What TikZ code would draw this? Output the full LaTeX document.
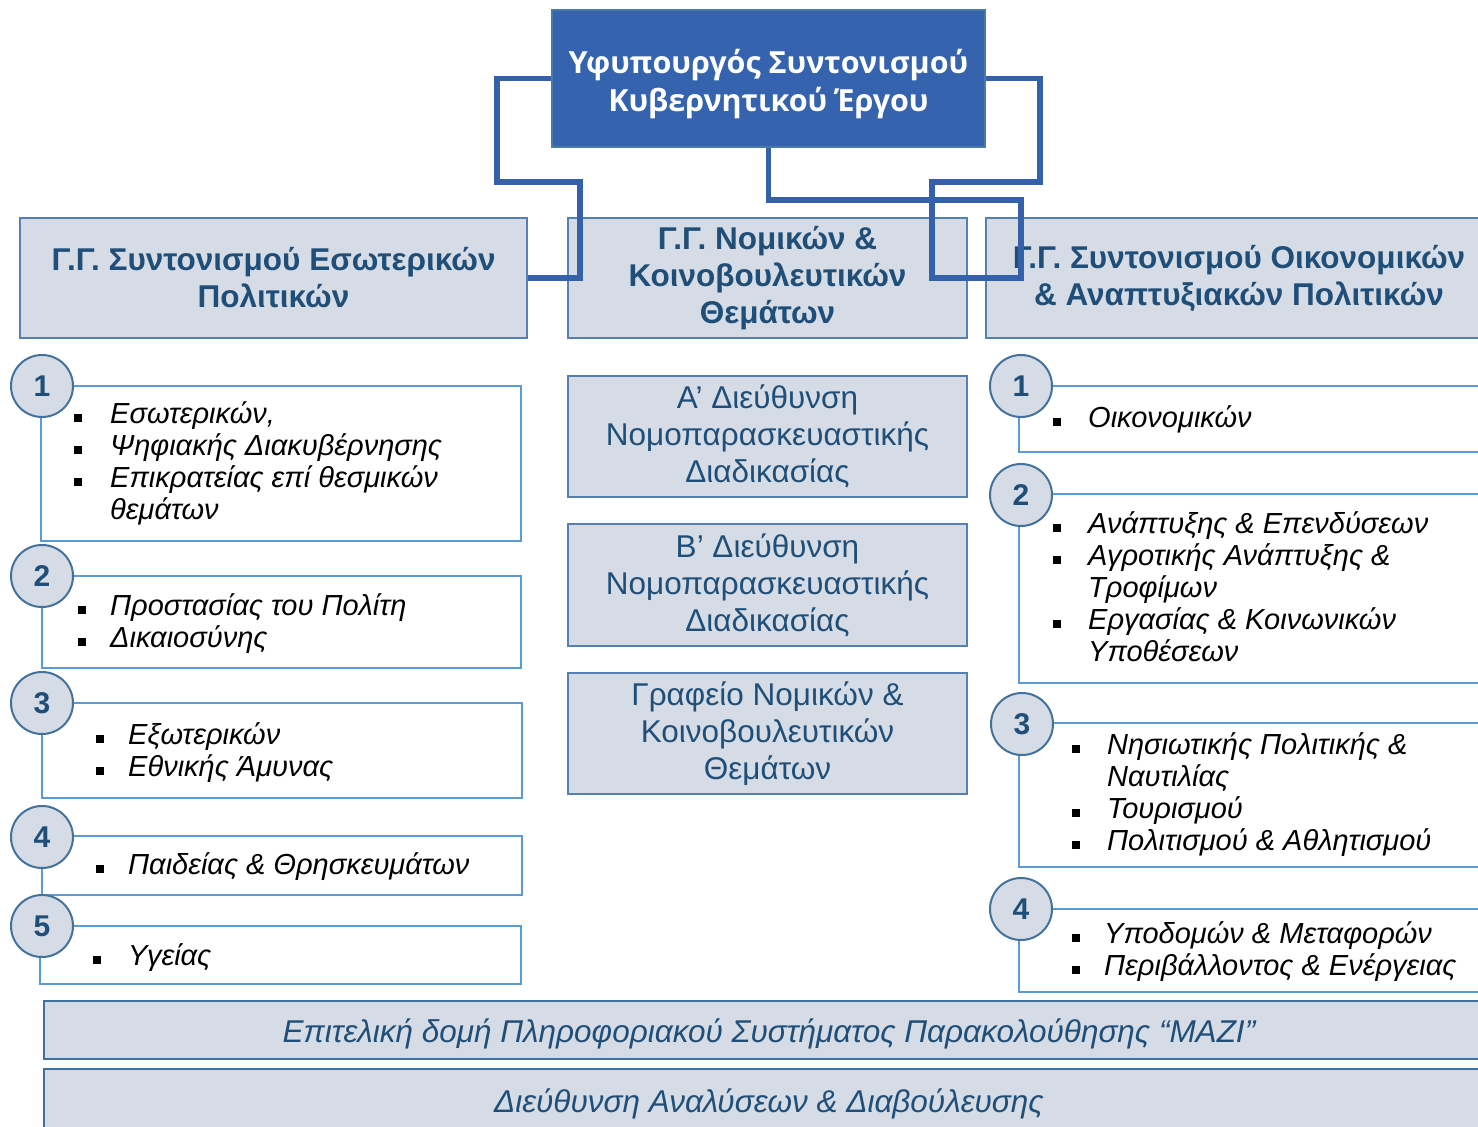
\documentclass[tikz,border=0pt]{standalone}
\usepackage{fontspec}
\setmainfont{Liberation Sans}
\newfontfamily\topfont{Open Sans}
\definecolor{topfill}{HTML}{3563AD}
\definecolor{topbd}{HTML}{4A7AA6}
\definecolor{conncol}{HTML}{3561AA}
\definecolor{pale}{HTML}{D6DCE5}
\definecolor{lvbd}{HTML}{5680B0}
\definecolor{darkblue}{HTML}{1F4E79}
\definecolor{listbd}{HTML}{5B9BD5}
\definecolor{circbd}{HTML}{41719C}
\newcommand\bul[1]{\makebox[#1pt][l]{\rule[1pt]{8pt}{8pt}}}
\begin{document}
\begin{tikzpicture}[x=1pt,y=-1pt,
  topbox/.style={draw=topbd,line width=2.5pt,fill=topfill,inner sep=0pt},
  toptext/.style={text=white,inner sep=0pt,
    font=\topfont\bfseries\fontsize{30.5}{38}\selectfont,align=center},
  lvtwo/.style={draw=lvbd,line width=2pt,fill=pale,text=darkblue,inner sep=0pt,
    font=\bfseries\fontsize{31.5}{37}\selectfont,align=center},
  dirbox/.style={draw=lvbd,line width=2pt,fill=pale,text=darkblue,inner sep=0pt,
    font=\fontsize{31.5}{37}\selectfont,align=center},
  listbox/.style={draw=listbd,line width=2pt,fill=white,inner sep=0pt},
  numcirc/.style={circle,draw=circbd,line width=2pt,fill=pale,text=darkblue,inner sep=0pt,
    minimum size=62pt,font=\bfseries\fontsize{30}{32}\selectfont},
  itm/.style={anchor=base west,inner sep=0pt,font=\itshape\fontsize{29}{32}\selectfont},
  bar/.style={draw=circbd,line width=2.5pt,fill=pale,text=darkblue,inner sep=0pt,
    font=\itshape\fontsize{31.5}{32}\selectfont,text height=26pt,text depth=2pt},
  conn/.style={draw=conncol,line width=5.5pt,line join=miter}
]
\useasboundingbox (0,0) rectangle (1478,1127);
\clip (0,0) rectangle (1478,1127);

% top
\node[topbox,minimum width=433pt,minimum height=137pt] (top) at (768.5,78.5) {};
\node[toptext] (toptxt) at (768.5,84) {Υφυπουργός Συντονισμού\\Κυβερνητικού Έργου};

% level 2
\node[lvtwo,minimum width=507pt,minimum height=120pt] (gl) at (273.5,278)
  {Γ.Γ. Συντονισμού Εσωτερικών\\Πολιτικών};
\node[lvtwo,minimum width=399pt,minimum height=120pt] (gn) at (767.5,278)
  {Γ.Γ. Νομικών \&\\Κοινοβουλευτικών\\Θεμάτων};
\node[lvtwo,minimum width=506pt,minimum height=120pt] (gr) at (1239,278)
  {Γ.Γ. Συντονισμού Οικονομικών\\\& Αναπτυξιακών Πολιτικών};

% middle directorates
\node[dirbox,minimum width=399pt,minimum height=121pt] (dA) at (767.5,436.5)
  {Α’ Διεύθυνση\\Νομοπαρασκευαστικής\\Διαδικασίας};
\node[dirbox,minimum width=399pt,minimum height=122pt] (dB) at (767.5,585)
  {Β’ Διεύθυνση\\Νομοπαρασκευαστικής\\Διαδικασίας};
\node[dirbox,minimum width=399pt,minimum height=121pt] (dG) at (767.5,733.5)
  {Γραφείο Νομικών \&\\Κοινοβουλευτικών\\Θεμάτων};

% left list boxes
\node[listbox,minimum width=480pt,minimum height=155pt] (L1) at (281,463.5) {};
\node[listbox,minimum width=479pt,minimum height=92pt] (L2) at (281.5,622) {};
\node[listbox,minimum width=480pt,minimum height=95pt] (L3) at (282,750.5) {};
\node[listbox,minimum width=480pt,minimum height=59pt] (L4) at (282,865.5) {};
\node[listbox,minimum width=481pt,minimum height=58pt] (L5) at (280.5,955) {};

% right list boxes
\node[listbox,minimum width=476pt,minimum height=66pt] (R1) at (1257,419) {};
\node[listbox,minimum width=476pt,minimum height=189pt] (R2) at (1257,588.5) {};
\node[listbox,minimum width=476pt,minimum height=144pt] (R3) at (1257,795) {};
\node[listbox,minimum width=476pt,minimum height=83pt] (R4) at (1257,950.5) {};

% circles
\node[numcirc] (cL1) at (42,386) {1};
\node[numcirc] (cL2) at (42,576) {2};
\node[numcirc] (cL3) at (42,703) {3};
\node[numcirc] (cL4) at (42,837) {4};
\node[numcirc] (cL5) at (42,926) {5};
\node[numcirc] (cR1) at (1021,386) {1};
\node[numcirc] (cR2) at (1021,495) {2};
\node[numcirc] (cR3) at (1022,724) {3};
\node[numcirc] (cR4) at (1021,909) {4};

% left items
\node[itm] (l1a) at (74,423) {\bul{36}Εσωτερικών,};
\node[itm] (l1b) at (74,455) {\bul{36}Ψηφιακής Διακυβέρνησης};
\node[itm] (l1c) at (74,487) {\bul{36}Επικρατείας επί θεσμικών};
\node[itm] (l1d) at (110,519) {θεμάτων};
\node[itm] (l2a) at (78,615) {\bul{32}Προστασίας του Πολίτη};
\node[itm] (l2b) at (78,647) {\bul{32}Δικαιοσύνης};
\node[itm] (l3a) at (96,744) {\bul{32}Εξωτερικών};
\node[itm] (l3b) at (96,776) {\bul{32}Εθνικής Άμυνας};
\node[itm] (l4a) at (96,874) {\bul{32}Παιδείας \& Θρησκευμάτων};
\node[itm] (l5a) at (93,965) {\bul{35}Υγείας};

% right items
\node[itm] (r1a) at (1053,427) {\bul{35}Οικονομικών};
\node[itm] (r2a) at (1053,533) {\bul{35}Ανάπτυξης \& Επενδύσεων};
\node[itm] (r2b) at (1053,565) {\bul{35}Αγροτικής Ανάπτυξης \&};
\node[itm] (r2c) at (1088,597) {Τροφίμων};
\node[itm] (r2d) at (1053,629) {\bul{35}Εργασίας \& Κοινωνικών};
\node[itm] (r2e) at (1088,661) {Υποθέσεων};
\node[itm] (r3a) at (1072,754) {\bul{35}Νησιωτικής Πολιτικής \&};
\node[itm] (r3b) at (1107,786) {Ναυτιλίας};
\node[itm] (r3c) at (1072,818) {\bul{35}Τουρισμού};
\node[itm] (r3d) at (1072,850) {\bul{35}Πολιτισμού \& Αθλητισμού};
\node[itm] (r4a) at (1072,943) {\bul{32}Υποδομών \& Μεταφορών};
\node[itm] (r4b) at (1072,975) {\bul{32}Περιβάλλοντος \& Ενέργειας};

% bottom bars
\node[bar,minimum width=1450pt,minimum height=58pt] (b1) at (769,1030)
  {Επιτελική δομή Πληροφοριακού Συστήματος Παρακολούθησης “ΜΑΖΙ”};
\node[bar,minimum width=1450pt,minimum height=62pt] (b2) at (769,1100)
  {Διεύθυνση Αναλύσεων \& Διαβούλευσης};

% connectors
\draw[conn] (top.west) -- (497,78.5) -- (497,182) -- (580,182) |- (gl.east);
\draw[conn] (top.south) -- (768.5,200) -- (1021,200) |- (gn.east);
\draw[conn] (top.east) -- (1040,78.5) -- (1040,182) -- (932,182) |- (gr.west);
\end{tikzpicture}
\end{document}
